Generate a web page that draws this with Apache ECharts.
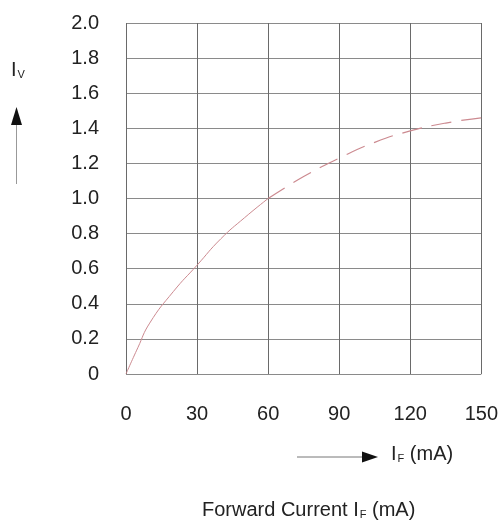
<!DOCTYPE html>
<html>
<head>
<meta charset="utf-8">
<script src="https://cdn.jsdelivr.net/npm/echarts@6/dist/echarts.min.js"></script>
<style>
  html, body { margin: 0; padding: 0; background: #fff; }
  #chart { width: 501px; height: 527px; }
</style>
</head>
<body>
<div id="chart"></div>
<script>
// forward current (mA) vs relative luminous intensity
var curSolid = [0, 5, 10, 20, 30, 40, 50, 60];
var ivSolid = [0, 0.15, 0.29, 0.47, 0.62, 0.77, 0.89, 1.0];
var curDash = [60, 75, 90, 105, 120, 135, 150];
var ivDash = [1.0, 1.125, 1.23, 1.32, 1.385, 1.43, 1.46];
var yTicks = ['0', '0.2', '0.4', '0.6', '0.8', '1.0', '1.2', '1.4', '1.6', '1.8', '2.0'];

var chart = echarts.init(document.getElementById('chart'));
var font = 'Liberation Sans, Arial, sans-serif';
var curveColor = '#cc8a90';

function pairs(xs, ys) {
  var out = [];
  for (var i = 0; i < xs.length; i++) out.push([xs[i], ys[i]]);
  return out;
}

// I with a small subscript, used for the axis notes
var richSub = {
  i: { fontSize: 20, fontFamily: font, fill: '#222' },
  s: { fontSize: 11, fontFamily: font, fill: '#222', padding: [9, 0, 0, 1] }
};

var option = {
  animation: false,
  grid: { left: 126, right: 18, top: 23, bottom: 153 },
  xAxis: {
    type: 'value', min: 0, max: 150, interval: 30,
    axisLine: { show: false },
    axisTick: { show: false },
    axisLabel: { color: '#222', fontSize: 20, fontFamily: font, margin: 30 },
    splitLine: { show: true, lineStyle: { color: '#6a6a6a', width: 1 } }
  },
  yAxis: {
    type: 'value', min: 0, max: 2, interval: 0.2,
    axisLine: { show: false },
    axisTick: { show: false },
    axisLabel: {
      color: '#222', fontSize: 20, fontFamily: font, margin: 27,
      padding: [0, 0, 8, 0],
      formatter: function (v) { return yTicks[Math.round(v / 0.2)]; }
    },
    splitLine: { show: true, lineStyle: { color: '#8a8a8a', width: 1 } }
  },
  series: [
    {
      type: 'line', data: pairs(curSolid, ivSolid), smooth: true, symbol: 'none',
      lineStyle: { color: curveColor, width: 1 }
    },
    {
      type: 'line', data: pairs(curDash, ivDash), smooth: true, symbol: 'none',
      lineStyle: { color: curveColor, width: 1.2, type: [20, 10] }
    }
  ],
  graphic: [
    { type: 'text', left: 11, top: 60, style: { text: '{i|I}{s|V}', rich: richSub } },
    { type: 'polygon', shape: { points: [[16.5, 107], [11, 125], [22, 125]] }, style: { fill: '#111' } },
    { type: 'line', shape: { x1: 16.5, y1: 125, x2: 16.5, y2: 184 }, style: { stroke: '#999', lineWidth: 1 } },
    { type: 'line', shape: { x1: 297, y1: 457, x2: 362, y2: 457 }, style: { stroke: '#777', lineWidth: 1 } },
    { type: 'polygon', shape: { points: [[362, 451.5], [378, 457], [362, 462.5]] }, style: { fill: '#111' } },
    { type: 'text', left: 391, top: 444, style: { text: '{i|I}{s|F}{i| (mA)}', rich: richSub } },
    { type: 'text', left: 202, top: 500, style: { text: '{i|Forward Current I}{s|F}{i| (mA)}', rich: richSub } }
  ]
};
chart.setOption(option);
</script>
</body>
</html>
